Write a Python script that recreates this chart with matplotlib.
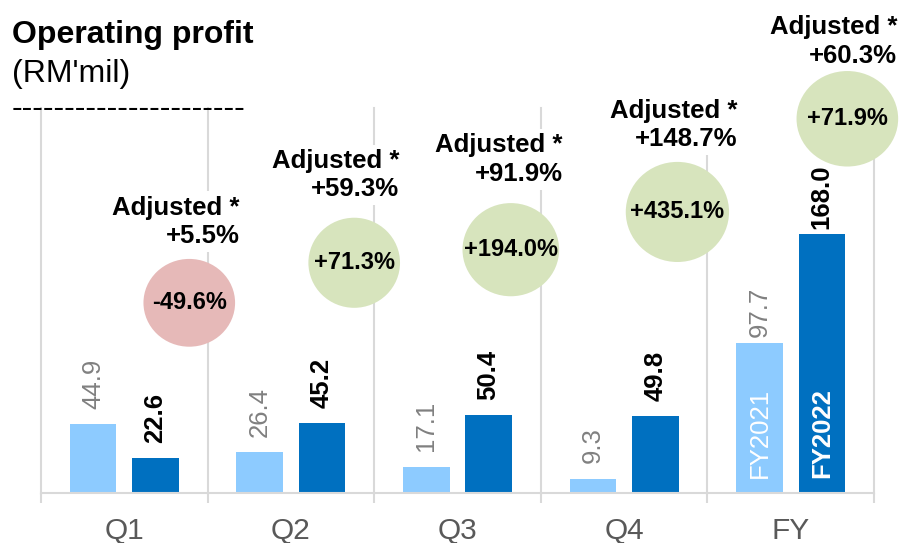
import numpy as np
import matplotlib
matplotlib.use('Agg')
import matplotlib.pyplot as plt
from matplotlib.patches import Ellipse

plt.rcParams['font.family'] = ['Liberation Sans', 'DejaVu Sans']

### Data
quarters = ['Q1', 'Q2', 'Q3', 'Q4', 'FY']
fy2021 = [44.9, 26.4, 17.1, 9.3, 97.7]
fy2022 = [22.6, 45.2, 50.4, 49.8, 168.0]
growth = ['-49.6%', '+71.3%', '+194.0%', '+435.1%', '+71.9%']
adjusted = ['+5.5%', '+59.3%', '+91.9%', '+148.7%', '+60.3%']
series_names = ['FY2021', 'FY2022']

### Layout of the bubbles and notes (data units)
circle_pos = [(0.39, 123.5), (1.38, 149.5), (2.32, 158), (3.32, 182.5), (4.34, 243)]
circle_size = [(0.55, 57), (0.55, 58.5), (0.58, 60.5), (0.62, 65), (0.61, 62)]
note_pos = [(0.69, 176), (1.65, 206.5), (2.63, 216.5), (3.68, 239), (4.64, 293)]
label_pad = [11, 11, 11, 11, 4]   # points between bar top and value label

light = '#8DCBFF'
dark = '#0070C0'
grey_line = '#D9D9D9'

### Figure
fig = plt.figure(figsize=(9.01, 5.43), dpi=100)
ax = fig.add_axes([41/901, 50/543, 833/901, 385/543])

x = np.arange(len(quarters))
w = 0.28
off = 0.187

# separators
for s in np.arange(-0.5, len(quarters)):
    ax.axvline(s, color=grey_line, lw=1.5, zorder=0.5, clip_on=False)

ax.bar(x - off, fy2021, w, color=light, zorder=2)
ax.bar(x + off, fy2022, w, color=dark, zorder=2)

# value labels
for xi, v, p in zip(x - off, fy2021, label_pad):
    ax.annotate(f'{v:.1f}', (xi, v), xytext=(0, p), textcoords='offset points',
                rotation=90, ha='center', va='bottom', fontsize=18.5, color='#808080')
for xi, v, p in zip(x + off, fy2022, label_pad):
    ax.annotate(f'{v:.1f}', (xi, v), xytext=(0, p), textcoords='offset points',
                rotation=90, ha='center', va='bottom', fontsize=18.5,
                fontweight='bold', color='black')

# series names inside the FY bars
ax.annotate(series_names[0], (x[-1] - off, 0), xytext=(0, 11), textcoords='offset points',
            rotation=90, ha='center', va='bottom', fontsize=18.5, color='white', zorder=3)
ax.annotate(series_names[1], (x[-1] + off, 0), xytext=(0, 11), textcoords='offset points',
            rotation=90, ha='center', va='bottom', fontsize=18.5, fontweight='bold',
            color='white', zorder=3)

# adjusted notes
for (nx, ny), adj in zip(note_pos, adjusted):
    ax.text(nx, ny, f'Adjusted *\n{adj}', ha='right', va='center', multialignment='right',
            fontsize=18.5, fontweight='bold', linespacing=1.25, zorder=3, clip_on=False,
            bbox=dict(fc='white', ec='none', pad=3))

# growth bubbles
for (cx, cy), (cw, ch), g in zip(circle_pos, circle_size, growth):
    col = '#E6B9B8' if g.startswith('-') else '#D7E4BD'
    ax.add_patch(Ellipse((cx, cy), cw, ch, fc=col, ec='none', zorder=4, clip_on=False))
    ax.text(cx, cy, g, ha='center', va='center', fontsize=17, fontweight='bold', zorder=5)

### Axes styling
ax.set_xlim(-0.5, 4.5)
ax.set_ylim(0, 250)
ax.set_yticks([])
ax.set_xticks(x)
ax.set_xticklabels(quarters, fontsize=21.5, color='#595959')
ax.set_xticks(np.arange(-0.5, len(quarters)), minor=True)
ax.tick_params(axis='x', which='major', length=0, pad=17)
ax.tick_params(axis='x', which='minor', length=7.5, width=1.5, color=grey_line)
for sp in ['top', 'left', 'right']:
    ax.spines[sp].set_visible(False)
ax.spines['bottom'].set_color(grey_line)
ax.spines['bottom'].set_linewidth(1.5)

# title block
fig.text(12/901, 1 - 43/543, 'Operating profit', fontsize=23, fontweight='bold', va='baseline')
fig.text(12/901, 1 - 82/543, "(RM'mil)", fontsize=23, va='baseline')
fig.text(12/901, 1 - 117/543, '-' * 22, fontsize=23, va='baseline')

fig.savefig('out.png', dpi=100)
